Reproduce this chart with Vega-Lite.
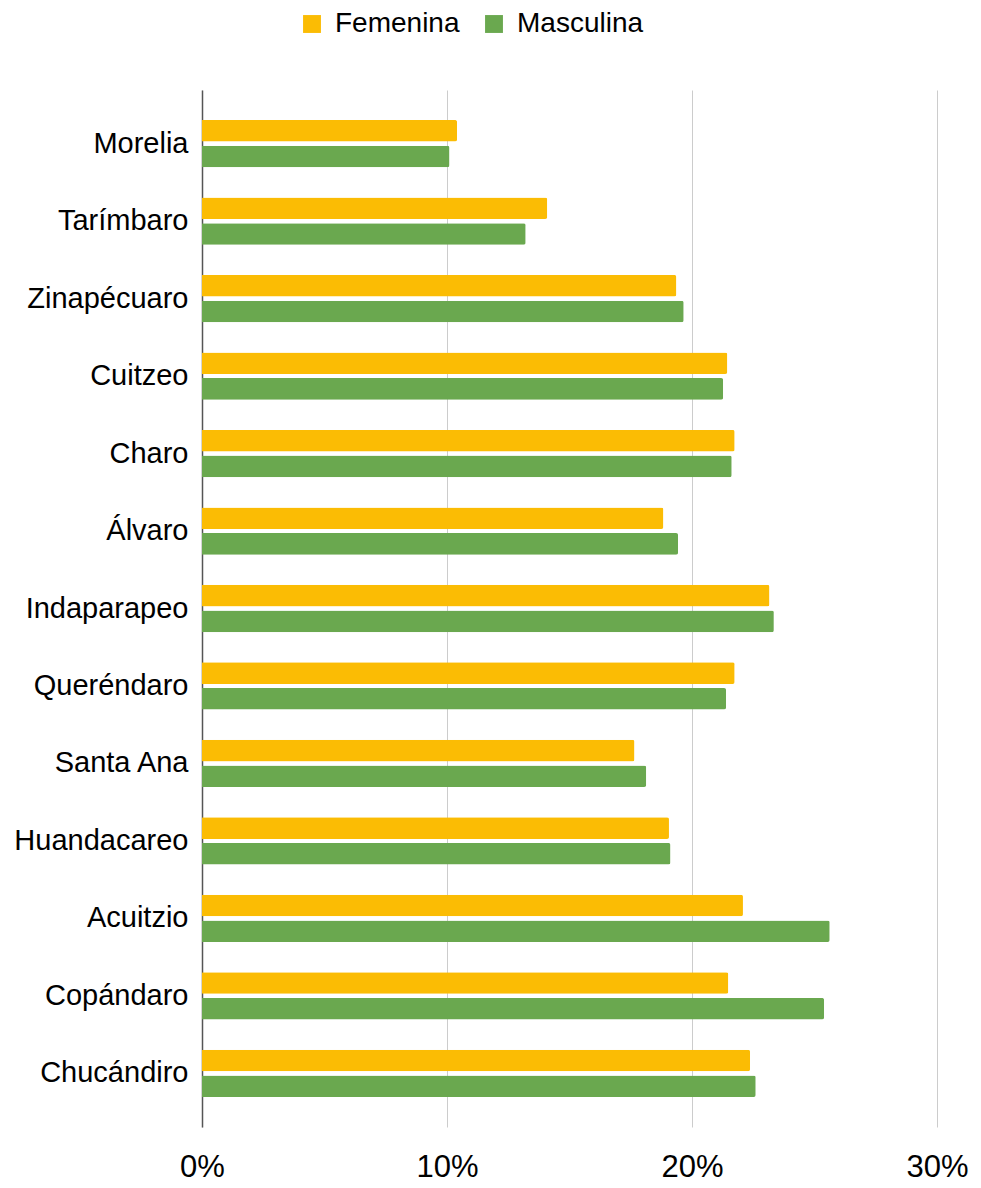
{
  "$schema": "https://vega.github.io/schema/vega-lite/v6.json",
  "width": 735,
  "height": 1037,
  "autosize": {"type": "none"},
  "padding": {"left": 202, "top": 90, "right": 44, "bottom": 61},
  "background": "white",
  "config": {
    "font": "Liberation Sans Narrow, Arial Narrow, Liberation Sans, sans-serif",
    "view": {"stroke": null}
  },
  "data": {
    "values": [
      {"m": "Morelia", "s": "Femenina", "v": 0.1041},
      {"m": "Morelia", "s": "Masculina", "v": 0.1010},
      {"m": "Tarímbaro", "s": "Femenina", "v": 0.1409},
      {"m": "Tarímbaro", "s": "Masculina", "v": 0.1321},
      {"m": "Zinapécuaro", "s": "Femenina", "v": 0.1936},
      {"m": "Zinapécuaro", "s": "Masculina", "v": 0.1966},
      {"m": "Cuitzeo", "s": "Femenina", "v": 0.2144},
      {"m": "Cuitzeo", "s": "Masculina", "v": 0.2127},
      {"m": "Charo", "s": "Femenina", "v": 0.2174},
      {"m": "Charo", "s": "Masculina", "v": 0.2162},
      {"m": "Álvaro", "s": "Femenina", "v": 0.1883},
      {"m": "Álvaro", "s": "Masculina", "v": 0.1943},
      {"m": "Indaparapeo", "s": "Femenina", "v": 0.2316},
      {"m": "Indaparapeo", "s": "Masculina", "v": 0.2334},
      {"m": "Queréndaro", "s": "Femenina", "v": 0.2174},
      {"m": "Queréndaro", "s": "Masculina", "v": 0.2139},
      {"m": "Santa Ana", "s": "Femenina", "v": 0.1765},
      {"m": "Santa Ana", "s": "Masculina", "v": 0.1813},
      {"m": "Huandacareo", "s": "Femenina", "v": 0.1906},
      {"m": "Huandacareo", "s": "Masculina", "v": 0.1912},
      {"m": "Acuitzio", "s": "Femenina", "v": 0.2208},
      {"m": "Acuitzio", "s": "Masculina", "v": 0.2562},
      {"m": "Copándaro", "s": "Femenina", "v": 0.2148},
      {"m": "Copándaro", "s": "Masculina", "v": 0.2539},
      {"m": "Chucándiro", "s": "Femenina", "v": 0.2237},
      {"m": "Chucándiro", "s": "Masculina", "v": 0.2260}
    ]
  },
  "mark": {"type": "bar", "cornerRadiusEnd": 2},
  "encoding": {
    "y": {
      "field": "m",
      "type": "nominal",
      "sort": null,
      "scale": {"paddingInner": 0.39, "paddingOuter": 0.387},
      "axis": {
        "title": null,
        "labelFontSize": 29,
        "labelLimit": 0,
        "labelColor": "#000000",
        "labelPadding": 14,
        "ticks": false,
        "domainColor": "#555555",
        "domainWidth": 1.5,
        "grid": false
      }
    },
    "yOffset": {
      "field": "s",
      "type": "nominal",
      "scale": {"paddingInner": 0.16, "paddingOuter": 0}
    },
    "x": {
      "field": "v",
      "type": "quantitative",
      "scale": {"domain": [0, 0.3], "nice": false},
      "axis": {
        "title": null,
        "format": ".0%",
        "values": [0, 0.1, 0.2, 0.3],
        "labelFontSize": 31,
        "labelLimit": 0,
        "labelColor": "#000000",
        "labelPadding": 25,
        "ticks": false,
        "domain": false,
        "grid": true,
        "gridColor": "#cccccc",
        "gridWidth": 1,
        "labelFlush": false
      }
    },
    "color": {
      "field": "s",
      "type": "nominal",
      "scale": {"domain": ["Femenina", "Masculina"], "range": ["#FBBC04", "#6AA84F"]},
      "legend": {
        "title": null,
        "orient": "none",
        "direction": "horizontal",
        "legendX": 96,
        "legendY": -80,
        "labelFontSize": 28,
        "labelLimit": 0,
        "labelColor": "#000000",
        "symbolType": "square",
        "symbolSize": 320,
        "symbolStrokeWidth": 0,
        "columnPadding": 20,
        "labelOffset": 9
      }
    }
  }
}
